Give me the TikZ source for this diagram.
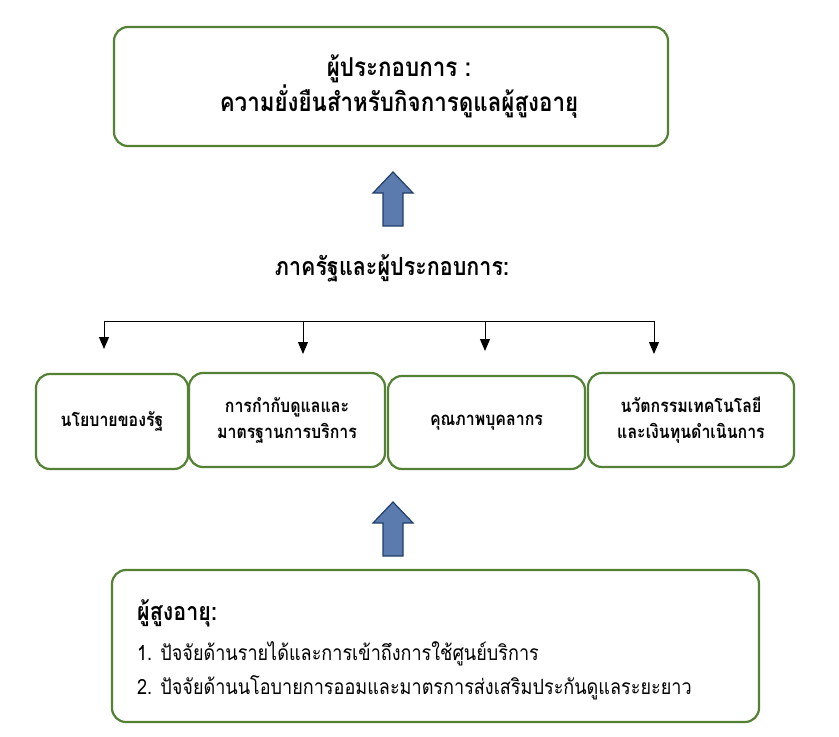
\documentclass[tikz,border=0pt]{standalone}
\usepackage{fontspec}
\newfontfamily\thai[Script=Thai]{Loma}
\newfontfamily\thaicond[Script=Thai,FakeStretch=0.86]{Loma}
\usetikzlibrary{arrows.meta}
\definecolor{boxgreen}{HTML}{548235}
\definecolor{arrfill}{HTML}{5B7BAE}
\definecolor{arrdraw}{HTML}{203F6A}
\begin{document}
\begin{tikzpicture}[x=1pt,y=-1pt,font=\thai,
  box/.style={draw=boxgreen,line width=2.2pt,rounded corners=14pt,fill=white,inner sep=0pt,align=center},
  conn/.style={line width=1pt,black},
  tipd/.style={conn,-{Triangle[length=12pt,width=10pt]}},
  uparrow/.pic={\draw[arrdraw,fill=arrfill,line width=1.2pt]
     (-10,54) -- (-10,21) -- (-20,21) -- (0,0) -- (20,21) -- (10,21) -- (10,54) -- cycle;}]
\useasboundingbox (0,0) rectangle (839,737);
% top box
\node[box,minimum width=554pt,minimum height=119pt,font=\thaicond\bfseries\fontsize{26}{33}\selectfont] (top) at (391,86.5)
  {\hspace*{16pt}ผู้ประกอบการ :\\\hspace*{16pt}ความยั่งยืนสำหรับกิจการดูแลผู้สูงอายุ};
\pic at (393,172) {uparrow};
\node[font=\thaicond\bfseries\fontsize{25}{24}\selectfont] (state) at (392,268) {ภาครัฐและผู้ประกอบการ:};
% distribution line
\coordinate (h1) at (104,321);
\coordinate (h4) at (654,321);
\coordinate (h2) at (303,321);
\coordinate (h3) at (485,321);
\coordinate (e1) at (104,349);
\coordinate (e2) at (303,354);
\coordinate (e3) at (485,351);
\coordinate (e4) at (654,354);
\draw[conn] (h1) -- (h4);
\draw[tipd] (h1) -- (e1);
\draw[tipd] (h2) -- (e2);
\draw[tipd] (h3) -- (e3);
\draw[tipd] (h4) -- (e4);
% four boxes
\begin{scope}[every node/.append style={font=\thaicond\bfseries\fontsize{18.5}{26}\selectfont}]
\node[box,minimum width=152pt,minimum height=95pt] (b1) at (112,421.5) {นโยบายของรัฐ};
\node[box,minimum width=196pt,minimum height=94pt] (b2) at (287,420) {การกำกับดูแลและ\\มาตรฐานการบริการ};
\node[box,minimum width=197pt,minimum height=93pt] (b3) at (486.5,422.5) {คุณภาพบุคลากร};
\node[box,minimum width=206pt,minimum height=94pt] (b4) at (691,420) {นวัตกรรมเทคโนโลยี\\และเงินทุนดำเนินการ};
\end{scope}
\pic at (393,502) {uparrow};
% bottom box
\node[box,minimum width=647pt,minimum height=152pt] (bot) at (435.5,646) {};
\node[anchor=north west,inner sep=0pt,align=left,font=\thaicond\fontsize{21}{34}\selectfont] (eld) at (137,599)
  {{\bfseries\fontsize{25}{34}\selectfont ผู้สูงอายุ:}\\[6pt]
   1. ปัจจัยด้านรายได้และการเข้าถึงการใช้ศูนย์บริการ\\
   2. ปัจจัยด้านนโอบายการออมและมาตรการส่งเสริมประกันดูแลระยะยาว};
\end{tikzpicture}
\end{document}
